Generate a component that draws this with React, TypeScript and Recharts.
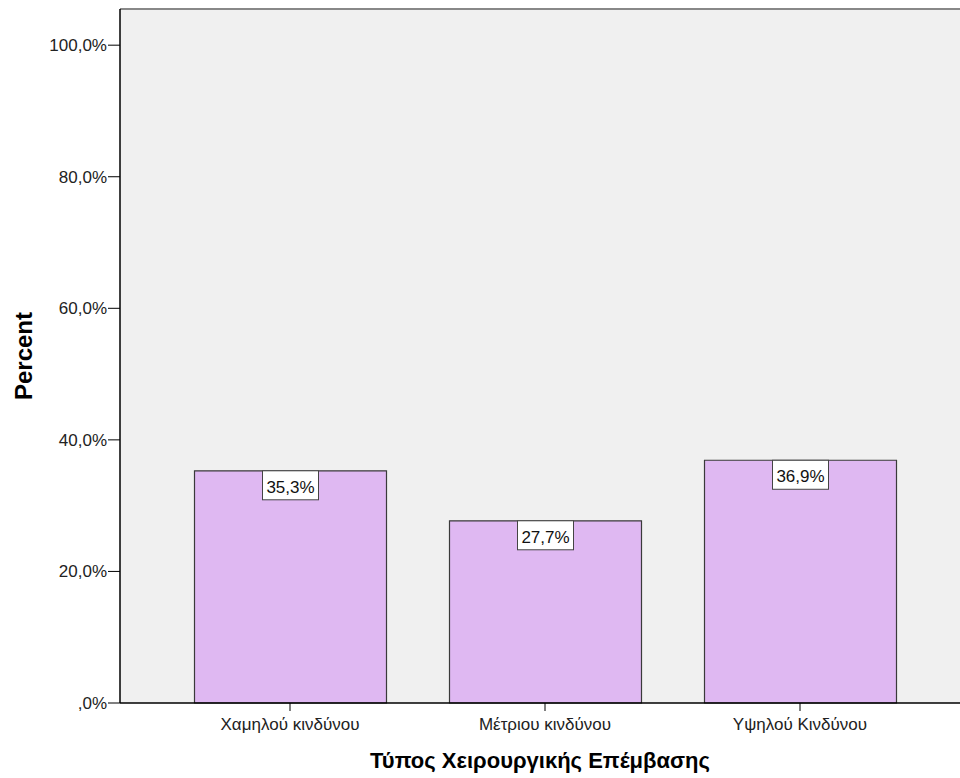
import { BarChart, Bar, XAxis, YAxis, CartesianGrid, ReferenceLine } from "recharts";

const categories = ["Χαμηλού κινδύνου", "Μέτριου κινδύνου", "Υψηλού Κινδύνου"];
const percents = [35.3, 27.7, 36.9];
const yTicks = [0, 20, 40, 60, 80, 100];
const yMax = 105.5;

const data = categories.map((name, i) => ({ name, percent: percents[i] }));

const font = "Arial, 'Liberation Sans', sans-serif";

const fmt = (v: number) => {
  const s = v.toFixed(1).replace(".", ",");
  return (s.startsWith("0") ? s.slice(1) : s) + "%";
};

const ValueBox = (props: any) => {
  const { x, y, width, value } = props;
  const cx = x + width / 2;
  const w = 56;
  const h = 29;
  return (
    <g>
      <rect x={cx - w / 2} y={y} width={w} height={h} fill="#ffffff" stroke="#444" strokeWidth={1} />
      <text x={cx} y={y + 22} textAnchor="middle" fontSize={17} fontFamily={font} fill="#111">
        {fmt(value)}
      </text>
    </g>
  );
};

export default function App() {
  return (
    <div style={{ position: "absolute", left: 0, top: 0, background: "#fff" }}>
      <BarChart
        width={960}
        height={778}
        data={data}
        margin={{ top: 9, right: 0, left: 0, bottom: 0 }}
      >
        <CartesianGrid horizontal={false} vertical={false} fill="#f0f0f0" />
        <ReferenceLine y={yMax} stroke="#888" strokeWidth={2} />
        <XAxis
          dataKey="name"
          height={75}
          padding={{ left: 42.5, right: 32.5 }}
          axisLine={{ stroke: "#000", strokeWidth: 1.5 }}
          tickLine={{ stroke: "#000" }}
          tickSize={8}
          tickMargin={7}
          tick={{ fill: "#222", fontSize: 17, fontFamily: font }}
          label={{
            value: "Τύπος Χειρουργικής Επέμβασης",
            position: "insideBottom",
            offset: 10,
            style: { fontSize: 22, fontWeight: "bold", fontFamily: font, fill: "#000" },
          }}
        />
        <YAxis
          width={120}
          domain={[0, yMax]}
          ticks={yTicks}
          tickFormatter={fmt}
          axisLine={{ stroke: "#000", strokeWidth: 1.5 }}
          tickLine={{ stroke: "#000" }}
          tickSize={12}
          tickMargin={1}
          tick={{ fill: "#222", fontSize: 17, fontFamily: font }}
          label={{
            value: "Percent",
            angle: -90,
            position: "insideLeft",
            offset: 23,
            style: { textAnchor: "middle", fontSize: 24, fontWeight: "bold", fontFamily: font, fill: "#000" },
          }}
        />
        <Bar
          dataKey="percent"
          barSize={192}
          fill="#dfb8f2"
          stroke="#3a3a3a"
          strokeWidth={1.2}
          isAnimationActive={false}
          label={ValueBox}
        />
      </BarChart>
    </div>
  );
}
